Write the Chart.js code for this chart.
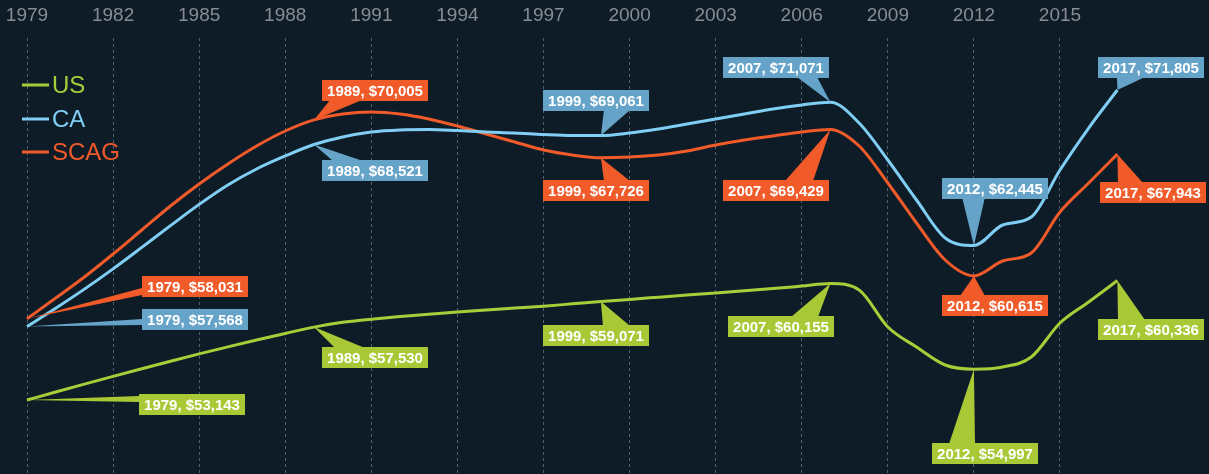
<!DOCTYPE html>
<html>
<head>
<meta charset="utf-8">
<script src="https://cdn.jsdelivr.net/npm/chart.js@4/dist/chart.umd.min.js"></script>
<style>
  html, body { margin: 0; padding: 0; background: #0e1c28; }
  #wrap { width: 1209px; height: 474px; position: relative; }
</style>
</head>
<body>
<div id="wrap"><canvas id="lineChart"></canvas></div>
<script>
// años y valores (ingreso medio del hogar)
const years = [1979,1980,1981,1982,1983,1984,1985,1986,1987,1988,1989,1990,1991,1992,1993,1994,1995,1996,1997,1998,
               1999,2000,2001,2002,2003,2004,2005,2006,2007,2008,2009,2010,2011,2012,2013,2014,2015,2016,2017];
const tickYears = [1979,1982,1985,1988,1991,1994,1997,2000,2003,2006,2009,2012,2015];
const seriesNames = ['US', 'CA', 'SCAG'];

const usValues = [53143,53623,54098,54568,55028,55478,55918,56343,56753,57148,57530,57820,58010,58170,58300,58441,58560,58675,58790,58930,
                  59071,59200,59330,59460,59590,59720,59850,60000,60155,59765,57538,56334,55250,54997,55130,55732,57778,59043,60336];
const caValues = [57568,58668,59818,61038,62328,63638,64918,66086,67049,67832,68521,68975,69276,69397,69420,69360,69277,69216,69120,69060,
                  69061,69216,69457,69758,70059,70360,70661,70902,71071,69818,67591,65183,62895,62445,63678,64160,66989,69517,71805];
const scagValues = [58031,59283,60548,61932,63377,64822,66146,67350,68434,69337,70005,70360,70480,70360,70060,69638,69156,68675,68193,67892,
                    67726,67772,67892,68133,68494,68795,69036,69277,69429,68434,66206,63798,61571,60615,61511,61992,64461,66206,67943];

// años con etiqueta en cada serie
const calloutYears = [1979, 1989, 1999, 2007, 2012, 2017];

const lineColors = ['#a9cd38', '#80cef4', '#f15a29'];
const boxColors = ['#a8c935', '#66a3c9', '#f15a29'];

// posición de cada caja: [serie, año, izquierda, arriba, base del triángulo x1,y1,x2,y2]
const calloutLayout = [
  [2, 1979, 142, 276, 142, 288, 142, 295],
  [1, 1979, 142, 309, 142, 319, 142, 325],
  [0, 1979, 139, 394, 139, 396, 139, 402],
  [2, 1989, 322, 80, 330, 100, 362, 100],
  [1, 1989, 322, 160, 333, 161, 363, 161],
  [0, 1989, 322, 347, 335, 348, 365, 348],
  [1, 1999, 543, 90, 604, 110, 630, 110],
  [2, 1999, 543, 180, 604, 181, 630, 181],
  [0, 1999, 543, 325, 603, 326, 630, 326],
  [1, 2007, 723, 57, 797, 77, 817, 77],
  [2, 2007, 723, 180, 785, 181, 813, 181],
  [0, 2007, 728, 316, 791, 317, 818, 317],
  [1, 2012, 942, 178, 962, 197, 985, 197],
  [2, 2012, 942, 295, 960, 296, 985, 296],
  [0, 2012, 932, 443, 949, 444, 975, 444],
  [1, 2017, 1098, 57, 1117, 77, 1145, 77],
  [2, 2017, 1100, 182, 1118, 183, 1143, 183],
  [0, 2017, 1098, 319, 1118, 320, 1145, 320]
];

const allValues = [usValues, caValues, scagValues];

const calloutPlugin = {
  id: 'callouts',
  afterDatasetsDraw(chart) {
    const ctx = chart.ctx;
    ctx.save();
    calloutLayout.forEach(c => {
      const [si, yr, bx, by, x1, y1, x2, y2] = c;
      const idx = years.indexOf(yr);
      if (!calloutYears.includes(yr)) return;
      const pt = chart.getDatasetMeta(si).data[idx];
      const text = yr + ', $' + allValues[si][idx].toLocaleString('en-US');
      ctx.font = 'bold 15px "Liberation Sans", Arial, sans-serif';
      const w = Math.max(106, ctx.measureText(text).width + 10);
      const h = 21;
      ctx.fillStyle = boxColors[si];
      ctx.beginPath();
      ctx.moveTo(pt.x, pt.y);
      ctx.lineTo(x1, y1);
      ctx.lineTo(x2, y2);
      ctx.closePath();
      ctx.fill();
      ctx.fillRect(bx, by, w, h);
      ctx.fillStyle = '#ffffff';
      ctx.textAlign = 'center';
      ctx.textBaseline = 'middle';
      ctx.fillText(text, bx + w / 2, by + h / 2 + 1);
    });
    ctx.restore();
  },
  afterDraw(chart) {
    // leyenda dentro del gráfico
    const ctx = chart.ctx;
    ctx.save();
    const rows = [85, 119, 152];
    chart.data.datasets.forEach((ds, i) => {
      ctx.strokeStyle = ds.borderColor;
      ctx.lineWidth = 3;
      ctx.beginPath();
      ctx.moveTo(22, rows[i]);
      ctx.lineTo(49, rows[i]);
      ctx.stroke();
      ctx.fillStyle = ds.borderColor;
      ctx.font = '24px "Liberation Sans", Arial, sans-serif';
      ctx.textAlign = 'left';
      ctx.textBaseline = 'middle';
      ctx.fillText(ds.label, 52, rows[i] + 1);
    });
    ctx.restore();
  }
};

const ctx = document.getElementById('lineChart').getContext('2d');
new Chart(ctx, {
  type: 'line',
  data: {
    datasets: allValues.map((vals, i) => ({
      label: seriesNames[i],
      data: years.map((y, k) => ({ x: y, y: vals[k] })),
      borderColor: lineColors[i],
      borderWidth: 3,
      pointRadius: 0,
      fill: false,
      cubicInterpolationMode: 'monotone'
    }))
  },
  options: {
    responsive: true,
    maintainAspectRatio: false,
    animation: false,
    layout: { padding: 0 },
    plugins: { legend: { display: false }, tooltip: { enabled: false } },
    scales: {
      x: {
        type: 'linear',
        position: 'top',
        min: 1978.059,
        max: 2020.193,
        afterBuildTicks: s => { s.ticks = tickYears.map(v => ({ value: v })); },
        afterFit: s => { s.height = 38; s.paddingLeft = 0; s.paddingRight = 0; },
        ticks: {
          color: '#878d93',
          font: { size: 19, family: '"Liberation Sans", Arial, sans-serif' },
          padding: 11,
          maxRotation: 0,
          autoSkip: false,
          callback: v => String(v)
        },
        grid: { color: 'rgba(150,162,175,0.5)', lineWidth: 1, drawTicks: false },
        border: { display: false, dash: [3, 3] }
      },
      y: {
        display: false,
        min: 48688,
        max: 74935
      }
    }
  },
  plugins: [calloutPlugin]
});
</script>
</body>
</html>
